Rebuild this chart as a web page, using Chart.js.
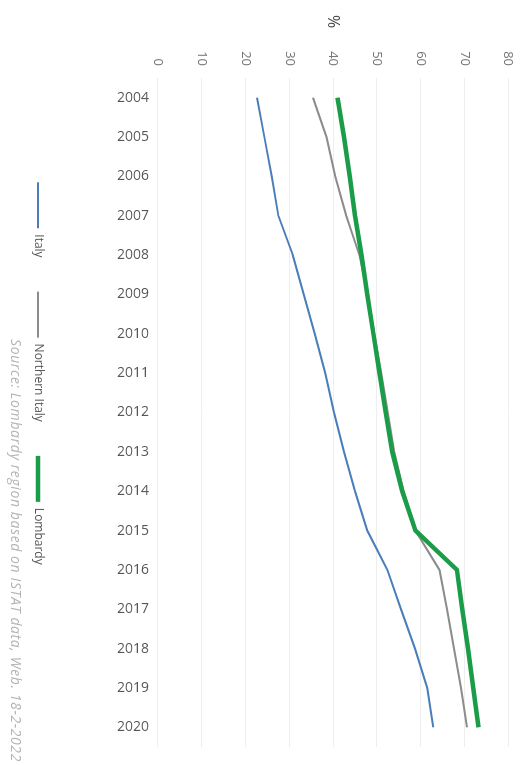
<!DOCTYPE html>
<html>
<head>
<meta charset="utf-8">
<script src="https://cdn.jsdelivr.net/npm/chart.js@4.4.1/dist/chart.umd.min.js"></script>
<style>
    html, body { margin: 0; padding: 0; background: #fff; overflow: hidden; }
    #rot {
        position: absolute; left: 0; top: 0; width: 765px; height: 528px;
        transform-origin: 0 0; transform: translateX(528px) rotate(90deg);
        font-family: 'Open Sans', sans-serif;
    }
    #unit { position: absolute; left: 15px; top: 183px; font-size: 16px; color: #444; }
    #source { position: absolute; left: 339px; top: 502px; font-size: 14px; letter-spacing: 0.6px; font-style: italic; color: #b4b4b4; white-space: nowrap; }
</style>
</head>
<body>
<div id="rot">
    <canvas id="chart" width="765" height="528"></canvas>
    <div id="unit">%</div>
    <div id="source">Source: Lombardy region based on ISTAT data, Web. 18-2-2022</div>
</div>
<script>
const Years = ['2004', '2005', '2006', '2007', '2008', '2009', '2010', '2011', '2012', '2013', '2014', '2015', '2016', '2017', '2018', '2019', '2020'];
const Italy = [22.6, 24.3, 26.0, 27.5, 30.8, 33.3, 35.8, 38.2, 40.2, 42.5, 45.0, 47.8, 52.4, 55.5, 58.7, 61.5, 62.9];
const Northern_Italy = [35.4, 38.5, 40.5, 43.0, 46.0, 47.9, 49.4, 51.0, 52.5, 54.0, 56.1, 58.8, 64.3, 66.0, 67.6, 69.2, 70.6];
const Lombardy = [41.0, 42.5, 43.8, 45.0, 46.5, 47.8, 49.2, 50.6, 52.0, 53.5, 55.8, 58.8, 68.3, 69.5, 70.8, 72.0, 73.2];
const Value_Ticks = [0, 10, 20, 30, 40, 50, 60, 70, 80];

const ctx = document.querySelector('#chart');
new Chart(ctx, {
    type: 'line',
    data: {
        labels: Years,
        datasets: [
            { label: 'Italy', data: Italy, borderColor: '#4a7ebb', backgroundColor: '#4a7ebb', borderWidth: 2, order: 2 },
            { label: 'Northern Italy', data: Northern_Italy, borderColor: '#8c8c8c', backgroundColor: '#8c8c8c', borderWidth: 2, order: 1 },
            { label: 'Lombardy', data: Lombardy, borderColor: '#1a9c48', backgroundColor: '#1a9c48', borderWidth: 4.5, order: 0 }
        ]
    },
    options: {
        responsive: false,
        animation: false,
        elements: { point: { radius: 0 }, line: { tension: 0 } },
        layout: { padding: { top: 13, right: 18, bottom: 22, left: 0 } },
        scales: {
            x: {
                offset: true,
                grid: { display: false },
                border: { display: false },
                ticks: { minRotation: 90, maxRotation: 90, padding: 1, color: '#555', font: { family: 'Open Sans', size: 14 } },
                afterFit: (scale) => { scale.height = 80; }
            },
            y: {
                min: 0,
                max: 80,
                afterBuildTicks: (scale) => { scale.ticks = Value_Ticks.map(v => ({ value: v })); },
                grid: { color: '#eeeeee', drawTicks: false },
                border: { display: false },
                ticks: { padding: 12, color: '#777', font: { family: 'Open Sans', size: 13 } },
                afterFit: (scale) => { scale.width = 78; }
            }
        },
        plugins: {
            legend: {
                position: 'bottom',
                labels: {
                    usePointStyle: true,
                    pointStyle: 'line',
                    pointStyleWidth: 46,
                    padding: 34,
                    color: '#555',
                    font: { family: 'Open Sans', size: 12 },
                    sort: (a, b) => a.datasetIndex - b.datasetIndex
                }
            },
            tooltip: { enabled: false }
        }
    }
});
</script>
</body>
</html>
